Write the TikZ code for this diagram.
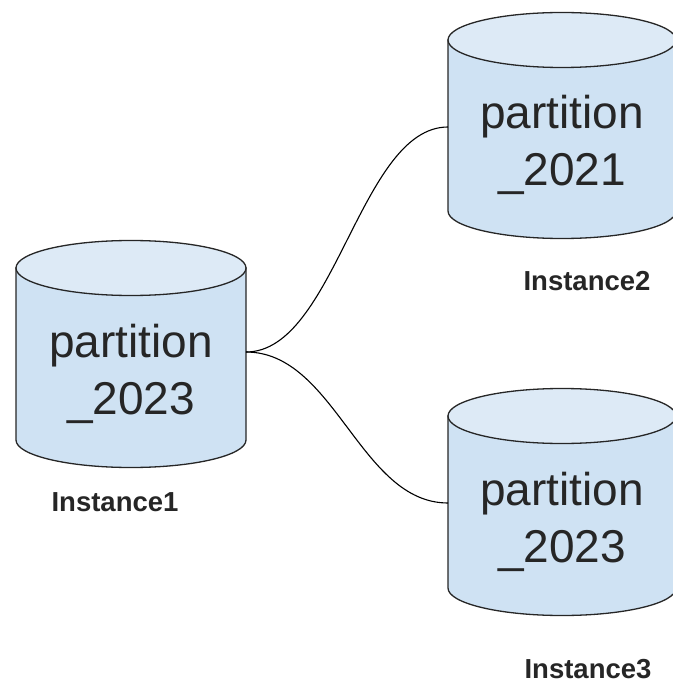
\documentclass[tikz,border=0pt]{standalone}
\usepackage{fontspec}
\setmainfont{Liberation Sans}
\begin{document}
\begin{tikzpicture}[x=1pt,y=-1pt,
  bodyfill/.style={fill=cylblue},
  cyledge/.style={draw=black!85,line width=1.3pt},
  ptext/.style={font=\fontsize{46}{57}\selectfont,align=center,text=black!85},
  ilabel/.style={font=\fontsize{27.5}{32}\selectfont\bfseries,text=black!85},
  link/.style={draw=black,line width=1.1pt}]
\definecolor{cylblue}{HTML}{CFE2F3}
\definecolor{cyltop}{HTML}{DDEAF6}
\useasboundingbox (0,0) rectangle (672,684);
\newcommand{\dbcyl}[4]{% x0 x1 ytopcenter ybotcenter
  \pgfmathsetmacro{\rx}{(#2-#1)/2}
  \pgfmathsetmacro{\cx}{(#1+#2)/2}
  \path[bodyfill,cyledge] (#1,#3) -- (#1,#4) arc[start angle=180,end angle=360,x radius=\rx,y radius=-27.5] -- (#2,#3) -- cycle;
  \path[fill=cyltop,cyledge] (\cx,#3) ellipse[x radius=\rx,y radius=27.5];
}
\dbcyl{16}{246}{268}{440}
\dbcyl{448}{676}{40}{211}
\dbcyl{448}{676}{416}{588}
\node[ptext] (t1) at (131,374) {partition\\\_2023};
\node[ptext] (t2) at (562,145) {partition\\\_2021};
\node[ptext] (t3) at (562,522) {partition\\\_2023};
\node[ilabel] (l1) at (115,502) {Instance1};
\node[ilabel] (l2) at (587,281) {Instance2};
\node[ilabel] (l3) at (588,669) {Instance3};
\coordinate (c1) at (246,352);
\coordinate (c2) at (448,127);
\coordinate (c3) at (448,503);
\draw[link] (c1) .. controls (335,352) and (360,127) .. (c2);
\draw[link] (c1) .. controls (335,352) and (360,503) .. (c3);
\end{tikzpicture}
\end{document}
